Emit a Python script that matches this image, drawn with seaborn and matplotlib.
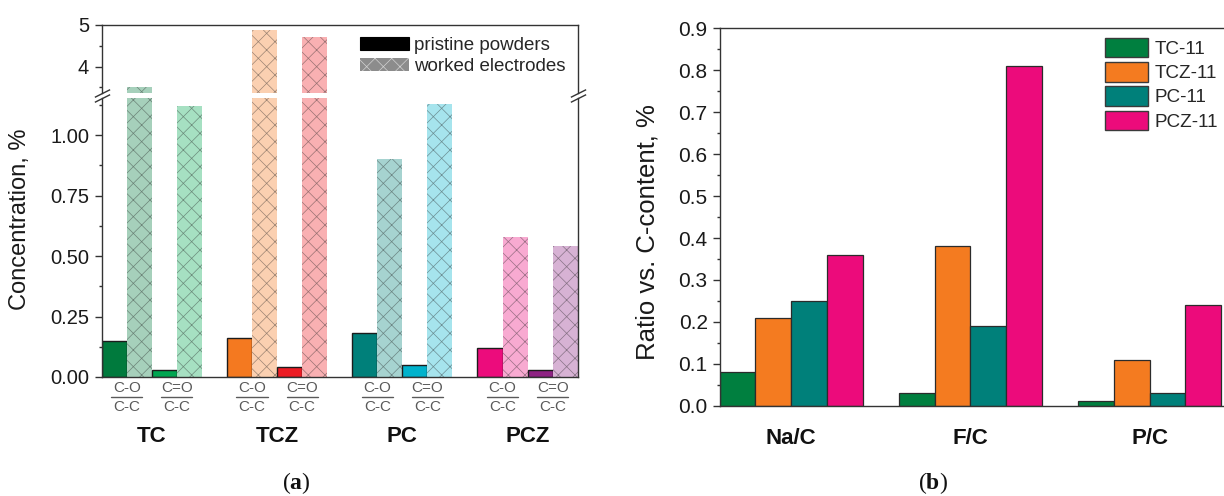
import numpy as np
import pandas as pd
import matplotlib
matplotlib.use("Agg")
import matplotlib.pyplot as plt
import matplotlib.colors as mcolors
import matplotlib.transforms as mtransforms
from matplotlib.patches import Patch
from matplotlib.ticker import FixedLocator, FormatStrFormatter, MultipleLocator
import seaborn as sns

# ---- panel (a): oxygen groups relative to C-C ----
samples = ["TC", "TCZ", "PC", "PCZ"]
co_pristine = [0.15, 0.16, 0.18, 0.12]
co_worked = [3.50, 4.88, 0.90, 0.58]
cdo_pristine = [0.03, 0.04, 0.05, 0.03]
cdo_worked = [1.12, 4.70, 1.13, 0.54]
co_colors = ["#007a3d", "#f47920", "#00807a", "#ec0c7c"]
cdo_colors = ["#00a651", "#ed1c24", "#00b2cc", "#8e2383"]
frac_numerators = ["C-O", "C=O"]
frac_denominator = "C-C"
legend_a = ["pristine powders", "worked electrodes"]

# ---- panel (b): element ratios vs. carbon ----
ratios = ["Na/C", "F/C", "P/C"]
series = ["TC-11", "TCZ-11", "PC-11", "PCZ-11"]
tc11 = [0.08, 0.03, 0.012]
tcz11 = [0.21, 0.38, 0.11]
pc11 = [0.25, 0.19, 0.03]
pcz11 = [0.36, 0.81, 0.24]
series_colors = ["#007f3f", "#f47b20", "#00807a", "#ec0b7b"]

sns.set_theme(style="ticks")
plt.rcParams["font.family"] = ["Liberation Sans", "DejaVu Sans"]
plt.rcParams["hatch.linewidth"] = 0.5
plt.rcParams["mathtext.fontset"] = "custom"
plt.rcParams["mathtext.rm"] = "Liberation Serif"
plt.rcParams["mathtext.bf"] = "Liberation Serif:bold"

W, H = 1224, 496
fig = plt.figure(figsize=(W / 100, H / 100), dpi=100)


def fx(px):
    return px / W


def fy(py):
    return 1 - py / H


def lighten(c, a):
    r, g, b = mcolors.to_rgb(c)
    return (1 - a + a * r, 1 - a + a * g, 1 - a + a * b)


SPINE = "#333333"
tick_kw = dict(direction="out", colors=SPINE, labelcolor="#1a1a1a", width=1.0)

# axes rectangles (figure pixels)
aL0, aL1 = 101.7, 577.7
low_top, low_bot = 98.3, 377.0
up_top, up_bot = 25.0, 93.3
bL0, bL1 = 719.5, 1223.0
b_top, b_bot = 28.5, 405.7

ax_up = fig.add_axes([fx(aL0), fy(up_bot), fx(aL1 - aL0), (up_bot - up_top) / H])
ax_low = fig.add_axes([fx(aL0), fy(low_bot), fx(aL1 - aL0), (low_bot - low_top) / H])
ax_b = fig.add_axes([fx(bL0), fy(b_bot), fx(bL1 - bL0), (b_bot - b_top) / H])

kinds = ["C-O pristine", "C-O worked", "C=O pristine", "C=O worked"]
left_df = pd.DataFrame({
    "sample": np.tile(samples, 4),
    "kind": np.repeat(kinds, len(samples)),
    "value": np.concatenate([co_pristine, co_worked, cdo_pristine, cdo_worked]),
})

hatch_col = (0.15, 0.15, 0.15, 0.45)

for ax in (ax_up, ax_low):
    sns.barplot(data=left_df, x="sample", y="value", hue="kind", order=samples,
                hue_order=kinds, width=0.8, errorbar=None, legend=False,
                saturation=1, ax=ax)
    for k, cont in enumerate(ax.containers):
        for i, bar in enumerate(cont):
            base = co_colors[i] if k < 2 else cdo_colors[i]
            if k % 2 == 0:
                bar.set_facecolor(base)
                bar.set_edgecolor("#1c1c1c")
                bar.set_linewidth(1.0)
            else:
                bar.set_facecolor(lighten(base, 0.35))
                bar.set_hatch("xx")
                if hasattr(bar, "set_hatchcolor"):
                    bar.set_edgecolor("#cfcfcf")
                    bar.set_linewidth(1.0)
                    bar.set_hatchcolor(hatch_col)
                else:
                    bar.set_edgecolor(hatch_col)
                    bar.set_linewidth(0)
    ax.set_xlim(-0.4, 3.4)
    ax.set_xlabel("")
    ax.set_ylabel("")
    ax.tick_params(axis="x", bottom=False, top=False, labelbottom=False)
    for s in ax.spines.values():
        s.set_color(SPINE)
        s.set_linewidth(1.0)
    ax.tick_params(axis="y", which="major", length=5, labelsize=14.5, pad=4, **tick_kw)
    ax.tick_params(axis="y", which="minor", length=2.5, **tick_kw)

# upper part of the broken axis
ax_up.set_ylim(3.36, 5.0)
ax_up.spines["bottom"].set_visible(False)
ax_up.yaxis.set_major_locator(FixedLocator([4, 5]))
ax_up.yaxis.set_major_formatter(FormatStrFormatter("%d"))
ax_up.yaxis.set_minor_locator(FixedLocator([3.5, 4.5]))

# lower part
ax_low.set_ylim(0, 1.152)
ax_low.spines["top"].set_visible(False)
ax_low.yaxis.set_major_locator(FixedLocator([0, 0.25, 0.5, 0.75, 1.0]))
ax_low.yaxis.set_major_formatter(FormatStrFormatter("%.2f"))
ax_low.yaxis.set_minor_locator(MultipleLocator(0.125))

# break marks
bk = dict(marker=[(-1, -0.5), (1, 0.5)], markersize=11, linestyle="none",
          color=SPINE, mec=SPINE, mew=1.0, clip_on=False)
ax_up.plot([0, 1], [0, 0], transform=ax_up.transAxes, **bk)
ax_low.plot([0, 1], [1, 1], transform=ax_low.transAxes, **bk)

# fraction labels and sample names below panel (a)
trA = mtransforms.blended_transform_factory(ax_low.transData, fig.transFigure)
for i, name in enumerate(samples):
    for off, num in zip((-0.2, 0.2), frac_numerators):
        x = i + off
        ax_low.text(x, fy(387.5), num, transform=trA, ha="center", va="center",
                    fontsize=11, color="#5a5a5a")
        ax_low.text(x, fy(407), frac_denominator, transform=trA, ha="center",
                    va="center", fontsize=11, color="#5a5a5a")
        ax_low.plot([x - 0.124, x + 0.124], [fy(397.3), fy(397.3)], transform=trA,
                    clip_on=False, color="#5a5a5a", lw=1.0)
    ax_low.text(i, fy(437), name, transform=trA, ha="center", va="center",
                fontsize=16, fontweight="bold", color="#111111")
ax_low.set_xlim(-0.4, 3.4)

leg_a = [Patch(facecolor="black", edgecolor="black", lw=0.8),
         Patch(facecolor="#8c8c8c", edgecolor="#d2d2d2", hatch="xx", lw=0)]
fig.legend(leg_a, legend_a, loc="upper left",
           bbox_to_anchor=(fx(360), fy(37)), bbox_transform=fig.transFigure,
           frameon=False, fontsize=13.5, handlelength=2.6, handleheight=0.72,
           handletextpad=0.3, labelspacing=0.2, borderpad=0, borderaxespad=0)

fig.text(fx(20), fy(219), "Concentration, %", rotation=90, ha="center",
         va="center", fontsize=17, color="#1a1a1a")

# ---- panel (b) ----
right_df = pd.DataFrame({
    "ratio": np.tile(ratios, 4),
    "series": np.repeat(series, len(ratios)),
    "value": np.concatenate([tc11, tcz11, pc11, pcz11]),
})
sns.barplot(data=right_df, x="ratio", y="value", hue="series", order=ratios,
            hue_order=series, palette=series_colors, width=0.8, errorbar=None,
            saturation=1, edgecolor="#2b2b2b", linewidth=0.9, legend=False, ax=ax_b)
ax_b.set_xlim(-0.4, 2.41)
ax_b.set_ylim(0, 0.9)
ax_b.set_xlabel("")
ax_b.set_ylabel("")
ax_b.spines["right"].set_visible(False)
for s in ax_b.spines.values():
    s.set_color(SPINE)
    s.set_linewidth(1.0)
ax_b.yaxis.set_major_locator(MultipleLocator(0.1))
ax_b.yaxis.set_major_formatter(FormatStrFormatter("%.1f"))
ax_b.yaxis.set_minor_locator(MultipleLocator(0.05))
ax_b.tick_params(axis="x", bottom=False, labelbottom=False)
ax_b.tick_params(axis="y", which="major", length=5, labelsize=15, pad=3.5, **tick_kw)
ax_b.tick_params(axis="y", which="minor", length=2.5, **tick_kw)

trB = mtransforms.blended_transform_factory(ax_b.transData, fig.transFigure)
for i, name in enumerate(ratios):
    ax_b.text(i, fy(439), name, transform=trB, ha="center", va="center",
              fontsize=16, fontweight="bold", color="#111111")

leg_b = [Patch(facecolor=c, edgecolor="#3a3a3a", lw=1.0) for c in series_colors]
fig.legend(leg_b, series, loc="upper left",
           bbox_to_anchor=(fx(1105), fy(38)), bbox_transform=fig.transFigure,
           frameon=False, fontsize=13.6, handlelength=2.3, handleheight=1.2,
           handletextpad=0.32, labelspacing=0.22, borderpad=0, borderaxespad=0)

fig.text(fx(647), fy(232), "Ratio vs. C-content, %", rotation=90, ha="center",
         va="center", fontsize=18.5, color="#1a1a1a")

# sub-figure captions
fig.text(fx(296), fy(483), r"($\mathbf{a}$)", ha="center", va="center",
         fontsize=17, family="Liberation Serif", color="#111111")
fig.text(fx(933), fy(483), r"($\mathbf{b}$)", ha="center", va="center",
         fontsize=17, family="Liberation Serif", color="#111111")

fig.savefig("out.png", dpi=100)
